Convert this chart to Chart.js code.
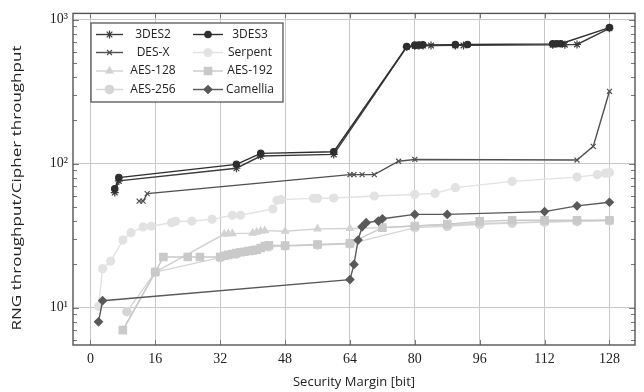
<!DOCTYPE html>
<html>
<head>
<meta charset="utf-8">
<script src="https://cdn.jsdelivr.net/npm/chart.js@4.4.0/dist/chart.umd.min.js"></script>
<style>
html, body { margin: 0; padding: 0; background: #fff; }
</style>
</head>
<body>
<canvas id="myChart" width="644" height="392"></canvas>
<script>
// tick labels and axis titles
const xTickValues = [0, 16, 32, 48, 64, 80, 96, 112, 128];
const yTickValues = [10, 100, 1000];
const yTickLabels = ['10\u00B9', '10\u00B2', '10\u00B3'];
const xTitle = 'Security Margin [bit]';
const yTitle = 'RNG throughput/Cipher throughput';

// series (x = security margin, y = ratio)
const des2X = [6, 7, 36, 42, 60, 78, 80, 81, 82, 84, 90, 92, 114, 117, 120, 128];
const des2Y = [63, 76, 93, 113, 116, 645, 655, 658, 660, 660, 662, 662, 668, 670, 672, 870];

const des3X = [6, 7, 36, 42, 60, 78, 80, 81, 82, 90, 93, 114, 115, 116, 128];
const des3Y = [67, 80, 99, 118, 121, 650, 665, 667, 668, 670, 672, 678, 680, 680, 880];

const desxX = [12, 13, 14, 64, 65, 67, 70, 76, 80, 120, 124, 128];
const desxY = [55, 55, 62, 84, 84, 84, 84, 104, 107, 106, 132, 318];

const serpentX = [2, 3, 5, 8, 10, 13, 15, 20, 21, 25, 30, 35, 37, 45, 46, 47, 55, 56, 60, 70, 80, 85, 90, 104, 120, 125, 127, 128];
const serpentY = [10.2, 18.7, 21.1, 29.5, 33.2, 36.4, 36.8, 39, 39.8, 40, 41.1, 43.9, 43.9, 48.5, 55.7, 56.3, 57.5, 57.5, 57.8, 59.7, 61.2, 62.2, 68.2, 75.4, 80.7, 84, 86, 87];

const aes128X = [8, 16, 33, 34, 35, 40, 41, 42, 43, 48, 56, 64, 72, 80, 96, 112, 128];
const aes128Y = [7.0, 17.7, 32.5, 32.7, 32.7, 33, 33.5, 34, 34.3, 34, 35.3, 35.5, 36, 37, 38.5, 39.5, 40.5];

const aes192X = [8, 16, 18, 24, 27, 32, 33, 34, 35, 36, 37, 38, 39, 40, 41, 42, 43, 44, 48, 56, 64, 72, 80, 88, 96, 104, 112, 120, 128];
const aes192Y = [7.0, 17.7, 22.5, 22.5, 22.5, 22.5, 23, 23.3, 23.6, 24, 24.3, 24.5, 24.8, 25, 25.3, 26, 26.8, 27.2, 27, 27.5, 28, 36, 37, 38, 39.8, 40.5, 40.5, 40.5, 40.5];

const aes256X = [9, 16, 32, 36, 40, 44, 48, 56, 64, 80, 88, 96, 104, 112, 120, 128];
const aes256Y = [9.4, 17.7, 22.3, 23.6, 25, 26.5, 26.8, 27.3, 27.8, 36, 36.8, 38, 38.7, 39.3, 39.8, 40.3];

const camelliaX = [2, 3, 64, 65, 66, 67, 68, 71, 72, 80, 88, 112, 120, 128];
const camelliaY = [8, 11.2, 15.7, 20, 29.5, 36.5, 39, 40, 41.5, 44.5, 44.5, 46.5, 51, 54];

function series(label, xs, ys, color, style, radius, order) {
    return {
        label: label,
        data: xs.map((x, i) => ({ x: x, y: ys[i] })),
        borderColor: color,
        backgroundColor: color,
        pointBackgroundColor: color,
        pointBorderColor: color,
        pointStyle: style,
        pointRadius: radius,
        pointBorderWidth: 1.2,
        borderWidth: 1.4,
        tension: 0,
        fill: false,
        order: order
    };
}

const datasets = [
    series('3DES2', des2X, des2Y, '#3c3c3c', 'star', 4, 1),
    series('3DES3', des3X, des3Y, '#2e2e2e', 'circle', 3.2, 0),
    series('DES-X', desxX, desxY, '#505050', 'crossRot', 3.5, 2),
    series('Serpent', serpentX, serpentY, '#e2e2e2', 'circle', 4, 7),
    series('AES-128', aes128X, aes128Y, '#d2d2d2', 'triangle', 4, 5),
    series('AES-192', aes192X, aes192Y, '#c9c9c9', 'rect', 5.2, 4),
    series('AES-256', aes256X, aes256Y, '#d6d6d6', 'circle', 4.2, 6),
    series('Camellia', camelliaX, camelliaY, '#595959', 'rectRot', 4, 3)
];

// frame, minor ticks, y title and the boxed two-column legend
const framePlugin = {
    id: 'frame',
    afterDraw(chart) {
        const ctx = chart.ctx;
        const a = chart.chartArea;
        const ys = chart.scales.y;
        const xs = chart.scales.x;
        ctx.save();
        ctx.strokeStyle = '#777';
        ctx.lineWidth = 1;
        ctx.beginPath();
        for (let e = 0; e <= 3; e++) {
            for (let m = 1; m <= 9; m++) {
                const v = m * Math.pow(10, e);
                if (v < ys.min || v > ys.max) continue;
                const py = Math.round(ys.getPixelForValue(v)) + 0.5;
                const len = m === 1 ? 6 : 4;
                ctx.moveTo(a.left, py); ctx.lineTo(a.left + len, py);
                ctx.moveTo(a.right, py); ctx.lineTo(a.right - len, py);
            }
        }
        xTickValues.forEach(v => {
            const px = Math.round(xs.getPixelForValue(v)) + 0.5;
            ctx.moveTo(px, a.bottom); ctx.lineTo(px, a.bottom - 5);
            ctx.moveTo(px, a.top); ctx.lineTo(px, a.top + 5);
        });
        ctx.stroke();
        ctx.strokeStyle = '#555';
        ctx.lineWidth = 1.4;
        ctx.strokeRect(a.left, a.top, a.right - a.left, a.bottom - a.top);

        // y title, stretched along its length like the reference
        ctx.save();
        ctx.font = '13.5px "Open Sans"';
        ctx.fillStyle = '#222';
        ctx.textAlign = 'center';
        ctx.textBaseline = 'middle';
        ctx.translate(17, 188);
        ctx.rotate(-Math.PI / 2);
        const tw = ctx.measureText(yTitle).width;
        ctx.scale(285 / tw, 1);
        ctx.fillText(yTitle, 0, 0);
        ctx.restore();

        // legend
        const bx = 91, by = 23, bw = 192, bh = 79;
        ctx.fillStyle = '#fff';
        ctx.fillRect(bx, by, bw, bh);
        ctx.strokeStyle = '#555';
        ctx.lineWidth = 1.3;
        ctx.strokeRect(bx, by, bw, bh);
        const rows = [34.5, 52.5, 71, 89.5];
        const cols = [{ l0: 96, l1: 123, tx: 153 }, { l0: 193, l1: 223, tx: 250 }];
        ctx.font = '12px "Open Sans"';
        ctx.textAlign = 'center';
        ctx.textBaseline = 'middle';
        chart.data.datasets.forEach((ds, i) => {
            const c = cols[i % 2];
            const y = rows[Math.floor(i / 2)];
            ctx.strokeStyle = ds.borderColor;
            ctx.fillStyle = ds.backgroundColor;
            ctx.lineWidth = 1.4;
            ctx.beginPath();
            ctx.moveTo(c.l0, y); ctx.lineTo(c.l1, y);
            ctx.stroke();
            ctx.lineWidth = 1.2;
            Chart.helpers.drawPoint(ctx, {
                pointStyle: ds.pointStyle,
                radius: ds.pointRadius,
                rotation: 0,
                borderWidth: 1.2
            }, (c.l0 + c.l1) / 2, y);
            ctx.fillStyle = '#222';
            ctx.fillText(ds.label, c.tx, y);
        });
        ctx.restore();
    }
};

const ctx = document.getElementById('myChart').getContext('2d');
const chart = new Chart(ctx, {
    type: 'line',
    data: { datasets: datasets },
    options: {
        responsive: false,
        animation: false,
        layout: { padding: { left: 0, right: 9, top: 13, bottom: 0 } },
        plugins: {
            legend: { display: false },
            tooltip: { enabled: false }
        },
        scales: {
            x: {
                type: 'linear',
                min: -4.3,
                max: 134.3,
                afterBuildTicks: s => { s.ticks = xTickValues.map(v => ({ value: v })); },
                afterFit: s => { s.height = 47; },
                grid: { color: '#c8c8c8', lineWidth: 1, drawTicks: false },
                border: { display: false },
                ticks: {
                    padding: 6,
                    color: '#222',
                    font: { family: '"Liberation Serif", serif', size: 14 },
                    maxRotation: 0
                },
                title: {
                    display: true,
                    text: xTitle,
                    color: '#222',
                    font: { family: '"Open Sans"', size: 13 },
                    padding: { top: 0, bottom: 2 }
                }
            },
            y: {
                type: 'logarithmic',
                min: 5.52,
                max: 1104,
                afterBuildTicks: s => { s.ticks = yTickValues.map(v => ({ value: v })); },
                afterFit: s => { s.width = 73; },
                grid: { color: '#c8c8c8', lineWidth: 1, drawTicks: false },
                border: { display: false },
                ticks: {
                    padding: 5,
                    color: '#222',
                    font: { family: '"Liberation Serif", serif', size: 14 },
                    callback: (v) => yTickLabels[yTickValues.indexOf(v)]
                },
                title: { display: false }
            }
        }
    },
    plugins: [framePlugin]
});
</script>
</body>
</html>
